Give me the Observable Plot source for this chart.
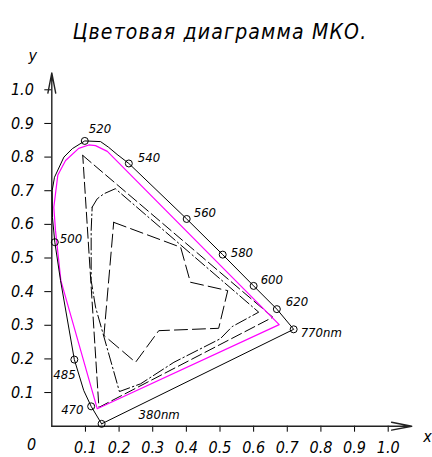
<!DOCTYPE html>
<html><head><meta charset="utf-8">
<script src="https://cdn.jsdelivr.net/npm/d3@7"></script>
<script src="https://cdn.jsdelivr.net/npm/@observablehq/plot@0.6"></script>
<style>
body{margin:0;background:#fff;}
</style>
</head><body><div id="chart"></div>
<script>
// ---- data ----
const title = "Цветовая диаграмма МКО.";
const ticks = [0.1,0.2,0.3,0.4,0.5,0.6,0.7,0.8,0.9,1.0];

// spectral locus (closed with the purple line)
const locusX = [0.148,0.117,0.095,0.067,0.026,0.009,0.002,0.001,0.008,0.036,0.061,0.098,0.145,0.169,0.194,0.229,0.401,0.508,0.600,0.669,0.719,0.148];
const locusY = [0.007,0.059,0.106,0.198,0.433,0.547,0.620,0.700,0.740,0.800,0.825,0.848,0.846,0.829,0.808,0.781,0.616,0.510,0.417,0.348,0.288,0.007];

// labelled wavelengths
const markerText = ["380nm","470","485","500","520","540","560","580","600","620","770nm"];
const markerX = [0.148,0.117,0.067,0.009,0.098,0.229,0.401,0.508,0.600,0.669,0.719];
const markerY = [0.007,0.059,0.198,0.547,0.848,0.781,0.616,0.510,0.417,0.348,0.288];

// magenta gamut
const magX = [0.135,0.027,0.011,0.006,0.018,0.041,0.080,0.110,0.130,0.165,0.676,0.135];
const magY = [0.052,0.433,0.582,0.651,0.747,0.790,0.826,0.836,0.834,0.817,0.302,0.052];

// long-dash triangle
const triX = [0.092,0.657,0.140,0.092];
const triY = [0.805,0.324,0.056,0.805];

// dash-dot gamut
const ddX = [0.120,0.135,0.155,0.189,0.615,0.536,0.501,0.363,0.264,0.201,0.130,0.117,0.117,0.120];
const ddY = [0.651,0.676,0.691,0.706,0.339,0.296,0.260,0.190,0.126,0.103,0.354,0.433,0.582,0.651];

// inner dashed gamut
const inX = [0.184,0.383,0.412,0.523,0.496,0.318,0.249,0.155,0.184];
const inY = [0.606,0.532,0.428,0.403,0.291,0.284,0.190,0.270,0.606];

// ---- build ----
const pts = (xs, ys) => xs.map((x, i) => ({x, y: ys[i]}));
const markers = markerText.map((t, i) => ({t, x: markerX[i], y: markerY[i]}));
const labelOffset = {"380nm":[37,-9],"470":[-30,3],"485":[-21,15],"500":[5,-3],"520":[4,-12],"540":[9,-6],"560":[7,-6],"580":[8,-2],"600":[7,-6],"620":[9,-7],"770nm":[7,4]};

const FONT = "'DejaVu Sans Condensed', 'Liberation Sans Narrow', 'DejaVu Sans', sans-serif";
const fmt = d3.format(".1f");

const chart = Plot.plot({
  width: 432, height: 457,
  marginLeft: 51.3, marginRight: 44.3, marginTop: 89.3, marginBottom: 31.3,
  x: {domain: [0, 1]},
  y: {domain: [0, 1]},
  style: {fontFamily: FONT, fontStyle: "italic", fontSize: "16px", background: "white", color: "black", overflow: "visible"},
  marks: [
    Plot.axisX({ticks, tickFormat: fmt, tickSize: 6, tickPadding: 9, label: null}),
    Plot.axisY({ticks, tickFormat: fmt, tickSize: 7, tickPadding: 11, label: null}),
    Plot.arrow([{x1: 0, y1: 0, x2: 1.07, y2: 0}], {x1: "x1", y1: "y1", x2: "x2", y2: "y2", stroke: "#222", strokeWidth: 1.4, headLength: 22, headAngle: 22}),
    Plot.arrow([{x1: 0, y1: 0, x2: 0, y2: 1.05}], {x1: "x1", y1: "y1", x2: "x2", y2: "y2", stroke: "#222", strokeWidth: 1.4, headLength: 22, headAngle: 22}),
    Plot.line(pts(inX, inY), {x: "x", y: "y", stroke: "black", strokeWidth: 1, strokeDasharray: "13,5"}),
    Plot.line(pts(ddX, ddY), {x: "x", y: "y", stroke: "black", strokeWidth: 1, strokeDasharray: "12,3,1.5,3"}),
    Plot.line(pts(triX, triY), {x: "x", y: "y", stroke: "black", strokeWidth: 1, strokeDasharray: "11,4"}),
    Plot.line(pts(magX, magY), {x: "x", y: "y", stroke: "#ff00ff", strokeWidth: 1.2}),
    Plot.line(pts(locusX, locusY), {x: "x", y: "y", stroke: "black", strokeWidth: 1}),
    Plot.dot(markers, {x: "x", y: "y", r: 3.5, stroke: "black", strokeWidth: 1, fill: "none"}),
    ...markers.map(m => Plot.text([m], {x: "x", y: "y", text: "t", textAnchor: "start", dx: labelOffset[m.t][0], dy: labelOffset[m.t][1], fontSize: 13})),
    Plot.text(["0"], {x: -0.060, y: -0.056, text: d => d, fontSize: 16}),
    Plot.text(["x"], {x: 1.117, y: -0.033, text: d => d, fontSize: 16}),
    Plot.text(["y"], {x: -0.057, y: 1.102, text: d => d, fontSize: 16}),
    Plot.text([title], {frameAnchor: "top", dy: -66, text: d => d, fontSize: 21})
  ]
});
document.getElementById("chart").appendChild(chart);
d3.select(chart).selectAll("text").filter(function() { return this.textContent === title; }).style("letter-spacing", "1.2px");
</script>
</body></html>
